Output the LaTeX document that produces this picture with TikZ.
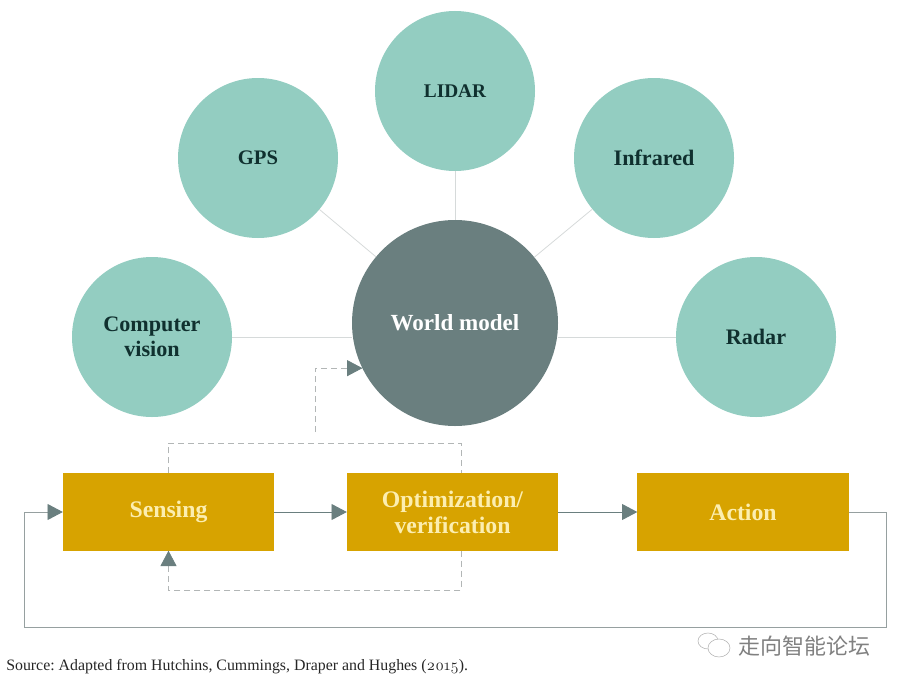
\documentclass[tikz,border=0pt]{standalone}
\usepackage{fontspec}
\setmainfont{Liberation Serif}
\newfontfamily\cjkfont{Noto Sans CJK SC}
\newfontfamily\numfont[Numbers=OldStyle]{Latin Modern Roman}
\usetikzlibrary{arrows.meta}
\definecolor{teal}{RGB}{147,205,193}
\definecolor{slate}{RGB}{106,127,127}
\definecolor{gold}{RGB}{215,163,0}
\definecolor{cream}{RGB}{252,238,176}
\definecolor{ink}{RGB}{16,48,47}
\definecolor{spoke}{RGB}{214,218,218}
\definecolor{loopgray}{RGB}{150,160,160}
\definecolor{dashgray}{RGB}{178,182,182}
\tikzset{
  sensor/.style={circle,fill=teal,inner sep=0pt,outer sep=0pt,minimum size=120pt,align=center,
    text=ink,font=\fontsize{16.6}{19}\selectfont\bfseries},
  hub/.style={circle,fill=slate,inner sep=0pt,outer sep=0pt,minimum size=154.5pt,
    text=white,font=\fontsize{17.3}{19}\selectfont\bfseries},
  stage/.style={rectangle,fill=gold,inner sep=0pt,outer sep=0pt,minimum width=158.5pt,minimum height=58pt,
    align=center,text=cream,font=\fontsize{17.8}{19.5}\selectfont\bfseries},
  spokeline/.style={draw=spoke,line width=0.6pt},
  flow/.style={draw=slate,line width=0.7pt,-{Triangle[length=11.5pt,width=12pt,fill=slate,color=slate]}},
  backloop/.style={draw=loopgray,line width=0.7pt,-{Triangle[length=11.5pt,width=12pt,fill=slate,color=slate]}},
  dashflow/.style={draw=dashgray,line width=0.6pt,dash pattern=on 4.5pt off 3pt},
  dashtip/.style={dashflow,-{Triangle[length=11.5pt,width=12pt,fill=slate,color=slate]}}
}

\begin{document}
\frenchspacing
\begin{tikzpicture}[x=0.75pt,y=0.75pt,yscale=-1,xscale=1]
\useasboundingbox (0,0) rectangle (898,685);

% sensors and hub
\node[sensor] (computer) at (152,337) {Computer\\vision};
\node[sensor,font=\fontsize{15.5}{19}\selectfont\bfseries] (gps) at (258,158) {GPS};
\node[sensor,font=\fontsize{14.5}{19}\selectfont\bfseries] (lidar) at (455,91) {LIDAR};
\node[sensor] (infrared) at (654,158) {Infrared};
\node[sensor] (radar) at (756,337) {Radar};
\node[hub] (world) at (455,323) {World model};

% stages
\node[stage] (sensing) at (168.5,512) {Sensing};
\node[stage] (optim) at (452.5,512) {Optimization/\\verification};
\node[stage] (action) at (743,512) {Action};

% spokes
\draw[spokeline] (computer.east) -- (computer -| world.west);
\draw[spokeline] (gps) -- (world);
\draw[spokeline] (lidar) -- (world);
\draw[spokeline] (infrared) -- (world);
\draw[spokeline] (radar.west) -- (radar -| world.east);

% solid flow
\draw[flow] (sensing) -- (optim);
\draw[flow] (optim) -- (action);
\draw[backloop] (action.east) -- (886,512) -- (886,627) -- (24,627) -- (24,512) -- (sensing.west);

% dashed loops
\coordinate (branch) at (315,432);
\draw[dashflow] (sensing.north) -- (168.5,443) -- (461,443) -- (optim.north -| 461,443);
\draw[dashtip] (branch) |- (world.206.6);
\draw[dashtip] (optim.south -| 461,590) -- (461,590) -- (168.5,590) -- (sensing.south);

% source and watermark
\node[anchor=west,inner sep=0pt,text=black!85,font=\fontsize{11.9}{13}\selectfont] (source) at (6,667) {Source: Adapted from Hutchins, Cummings, Draper and Hughes ({\numfont 2015}).};
\node[anchor=west,inner sep=0pt,text=black!50,font=\cjkfont\fontsize{16.5}{20}\selectfont] (mark) at (738,646) {走向智能论坛};
\draw[black!30,line width=0.4pt,fill=white] (708,641) ellipse (10 and 8);
\draw[black!30,line width=0.4pt,fill=white] (719,648) ellipse (11 and 9);
\end{tikzpicture}
\end{document}
